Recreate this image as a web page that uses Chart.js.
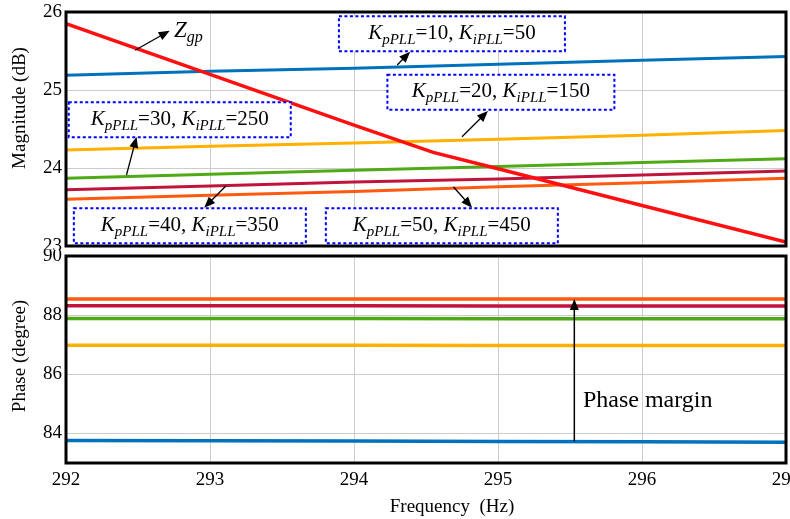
<!DOCTYPE html>
<html>
<head>
<meta charset="utf-8">
<script src="https://cdn.jsdelivr.net/npm/chart.js@4.4.0/dist/chart.umd.min.js"></script>
<style>
  body { margin: 0; background: #fff; }
  #wrap { position: relative; width: 790px; height: 519px; }
  canvas { position: absolute; left: 0; }
</style>
</head>
<body>
<div id="wrap">
  <canvas id="mag" width="790" height="250" style="top:0"></canvas>
  <canvas id="phase" width="790" height="269" style="top:250px"></canvas>
</div>
<script>
// frequency points (Hz)
const freq = [292, 293, 294, 295, 296, 297];
const freqTicks = [292, 293, 294, 295, 296, 297];

// PLL gains for each curve
const kpValues = ['10', '20', '30', '40', '50'];
const kiValues = ['50', '150', '250', '350', '450'];

// magnitude (dB) of each curve at freq
const magK10 = [25.19, 25.24, 25.28, 25.33, 25.38, 25.43];
const magK20 = [24.23, 24.28, 24.32, 24.37, 24.42, 24.48];
const magK30 = [23.87, 23.92, 23.97, 24.02, 24.07, 24.12];
const magK40 = [23.72, 23.77, 23.82, 23.86, 23.91, 23.96];
const magK50 = [23.60, 23.65, 23.70, 23.76, 23.81, 23.87];

// grid impedance Zgp
const zgpFreq = [292, 293, 294, 294.55, 295, 296, 297];
const zgpMag = [25.85, 25.20, 24.55, 24.20, 23.99, 23.52, 23.05];

// phase (degree)
const phaseK10 = [83.76, 83.75, 83.74, 83.73, 83.72, 83.70];
const phaseK20 = [86.98, 86.98, 86.98, 86.97, 86.97, 86.97];
const phaseK30 = [87.89, 87.89, 87.89, 87.88, 87.88, 87.88];
const phaseK40 = [88.32, 88.32, 88.32, 88.31, 88.31, 88.31];
const phaseK50 = [88.55, 88.55, 88.55, 88.55, 88.55, 88.55];

const magTicks = [23, 24, 25, 26];
const phaseTicks = [84, 86, 88, 90];

const colors = ['#0072BD', '#FFB000', '#4EAA16', '#C0143C', '#FF5A10'];
const serif = '"Liberation Serif", "Times New Roman", serif';

const pts = (xs, ys) => xs.map((x, i) => ({ x: x, y: ys[i] }));

// annotation boxes, centres in data units
const boxNotes = [
  { x: 294.68, y: 25.72, w: 226 },
  { x: 295.02, y: 24.97, w: 227 },
  { x: 292.79, y: 24.62, w: 222 },
  { x: 292.86, y: 23.26, w: 232 },
  { x: 294.61, y: 23.26, w: 232 }
];
// arrows from curve to box [x1, y1, x2, y2]
const boxArrows = [
  [294.30, 25.32, 294.39, 25.49],
  [294.75, 24.40, 294.93, 24.73],
  [292.42, 23.91, 292.49, 24.40],
  [293.11, 23.77, 292.96, 23.49],
  [294.69, 23.76, 294.82, 23.49]
];

function arrow(ctx, x1, y1, x2, y2) {
  const a = Math.atan2(y2 - y1, x2 - x1);
  const hl = 11, hw = 4.5;
  ctx.beginPath();
  ctx.moveTo(x1, y1);
  ctx.lineTo(x2 - Math.cos(a) * hl * 0.8, y2 - Math.sin(a) * hl * 0.8);
  ctx.stroke();
  ctx.beginPath();
  ctx.moveTo(x2, y2);
  ctx.lineTo(x2 - Math.cos(a) * hl - Math.sin(a) * hw, y2 - Math.sin(a) * hl + Math.cos(a) * hw);
  ctx.lineTo(x2 - Math.cos(a) * hl + Math.sin(a) * hw, y2 - Math.sin(a) * hl - Math.cos(a) * hw);
  ctx.closePath();
  ctx.fill();
}

function richText(ctx, parts, x, y, center) {
  let w = 0;
  parts.forEach(p => { ctx.font = p[1]; w += ctx.measureText(p[0]).width; });
  let px = center ? x - w / 2 : x;
  ctx.textAlign = 'left';
  ctx.textBaseline = 'alphabetic';
  parts.forEach(p => {
    ctx.font = p[1];
    ctx.fillText(p[0], px, y + p[2]);
    px += ctx.measureText(p[0]).width;
  });
}

function kLabel(kp, ki) {
  const it = 'italic 21px ' + serif, sub = 'italic 15px ' + serif, rm = '21px ' + serif;
  return [['K', it, 0], ['pPLL', sub, 5], ['=' + kp + ', ', rm, 0],
          ['K', it, 0], ['iPLL', sub, 5], ['=' + ki, rm, 0]];
}

function frame(ctx, a) {
  ctx.strokeStyle = '#000';
  ctx.lineWidth = 3;
  ctx.setLineDash([]);
  ctx.strokeRect(a.left, a.top, a.right - a.left, a.bottom - a.top);
}

function yTitle(ctx, text, x, y) {
  ctx.save();
  ctx.translate(x, y);
  ctx.rotate(-Math.PI / 2);
  ctx.font = '19px ' + serif;
  ctx.fillStyle = '#000';
  ctx.textAlign = 'center';
  ctx.textBaseline = 'middle';
  ctx.fillText(text, 0, 0);
  ctx.restore();
}

const magNotes = {
  id: 'magNotes',
  afterDraw(chart) {
    const { ctx, chartArea, scales: { x, y } } = chart;
    ctx.save();
    frame(ctx, chartArea);
    ctx.fillStyle = '#000';
    ctx.strokeStyle = '#000';
    ctx.lineWidth = 1.3;
    boxArrows.forEach(r => arrow(ctx, x.getPixelForValue(r[0]), y.getPixelForValue(r[1]),
                                 x.getPixelForValue(r[2]), y.getPixelForValue(r[3])));
    arrow(ctx, x.getPixelForValue(292.48), y.getPixelForValue(25.51),
          x.getPixelForValue(292.72), y.getPixelForValue(25.76));
    richText(ctx, [['Z', 'italic 23px ' + serif, 0], ['gp', 'italic 16px ' + serif, 5]],
             x.getPixelForValue(292.75), y.getPixelForValue(25.68), false);

    boxNotes.forEach((b, i) => {
      const cx = x.getPixelForValue(b.x), cy = y.getPixelForValue(b.y);
      const h = 35;
      ctx.fillStyle = '#fff';
      ctx.fillRect(cx - b.w / 2, cy - h / 2, b.w, h);
      ctx.strokeStyle = '#0000FF';
      ctx.lineWidth = 2;
      ctx.setLineDash([3, 2.5]);
      ctx.strokeRect(cx - b.w / 2, cy - h / 2, b.w, h);
      ctx.setLineDash([]);
      ctx.fillStyle = '#000';
      richText(ctx, kLabel(kpValues[i], kiValues[i]), cx, cy + 5, true);
    });
    yTitle(ctx, 'Magnitude (dB)', 20, 108);
    ctx.restore();
  }
};

const phaseNotes = {
  id: 'phaseNotes',
  afterDraw(chart) {
    const { ctx, chartArea, scales: { x, y } } = chart;
    ctx.save();
    frame(ctx, chartArea);
    ctx.fillStyle = '#000';
    ctx.strokeStyle = '#000';
    ctx.lineWidth = 1.5;
    const ax = x.getPixelForValue(295.53);
    arrow(ctx, ax, y.getPixelForValue(83.73), ax, y.getPixelForValue(88.55));
    ctx.font = '24px ' + serif;
    ctx.textAlign = 'left';
    ctx.textBaseline = 'alphabetic';
    ctx.fillText('Phase margin', x.getPixelForValue(295.59), y.getPixelForValue(84.91));
    yTitle(ctx, 'Phase (degree)', 20, 106);
    ctx.font = '19px ' + serif;
    ctx.textAlign = 'center';
    ctx.textBaseline = 'middle';
    ctx.fillText('Frequency  (Hz)', 452, 257);
    ctx.restore();
  }
};

function lineSet(data, color, width, order) {
  return { data: data, borderColor: color, borderWidth: width, pointRadius: 0,
           tension: 0, fill: false, order: order };
}

function xAxis(showLabels) {
  return {
    type: 'linear', min: 292, max: 297,
    afterBuildTicks: s => { s.ticks = freqTicks.map(v => ({ value: v })); },
    afterFit: s => { s.height = showLabels ? 56 : 0; s.paddingLeft = 0; s.paddingRight = 0; },
    grid: { color: '#cccccc', lineWidth: 1, drawTicks: false },
    border: { display: false },
    ticks: { display: showLabels, color: '#000', padding: 6, maxRotation: 0,
             font: { family: serif, size: 19 } }
  };
}

function yAxis(min, max, ticks) {
  return {
    min: min, max: max,
    afterBuildTicks: s => { s.ticks = ticks.map(v => ({ value: v })); },
    afterFit: s => { s.width = 66; s.paddingTop = 0; s.paddingBottom = 0; },
    grid: { color: '#cccccc', lineWidth: 1, drawTicks: false },
    border: { display: false },
    ticks: { color: '#000', padding: 4, font: { family: serif, size: 19 } }
  };
}

const common = {
  responsive: false,
  animation: false,
  plugins: { legend: { display: false }, tooltip: { enabled: false } }
};

new Chart(document.getElementById('mag'), {
  type: 'line',
  data: {
    datasets: [
      lineSet(pts(zgpFreq, zgpMag), '#FF1010', 3.5, 0),
      lineSet(pts(freq, magK10), colors[0], 3, 5),
      lineSet(pts(freq, magK20), colors[1], 3, 4),
      lineSet(pts(freq, magK30), colors[2], 3, 3),
      lineSet(pts(freq, magK40), colors[3], 3, 2),
      lineSet(pts(freq, magK50), colors[4], 3, 1)
    ]
  },
  options: Object.assign({}, common, {
    layout: { padding: { top: 12, bottom: 4, left: 0, right: 4 } },
    scales: { x: xAxis(false), y: yAxis(23, 26, magTicks) }
  }),
  plugins: [magNotes]
});

new Chart(document.getElementById('phase'), {
  type: 'line',
  data: {
    datasets: [
      lineSet(pts(freq, phaseK10), colors[0], 3.5, 5),
      lineSet(pts(freq, phaseK20), colors[1], 3.5, 4),
      lineSet(pts(freq, phaseK30), colors[2], 3.5, 3),
      lineSet(pts(freq, phaseK40), colors[3], 3.5, 2),
      lineSet(pts(freq, phaseK50), colors[4], 3.5, 1)
    ]
  },
  options: Object.assign({}, common, {
    layout: { padding: { top: 6, bottom: 0, left: 0, right: 4 } },
    scales: { x: xAxis(true), y: yAxis(83, 90, phaseTicks) }
  }),
  plugins: [phaseNotes]
});
</script>
</body>
</html>
